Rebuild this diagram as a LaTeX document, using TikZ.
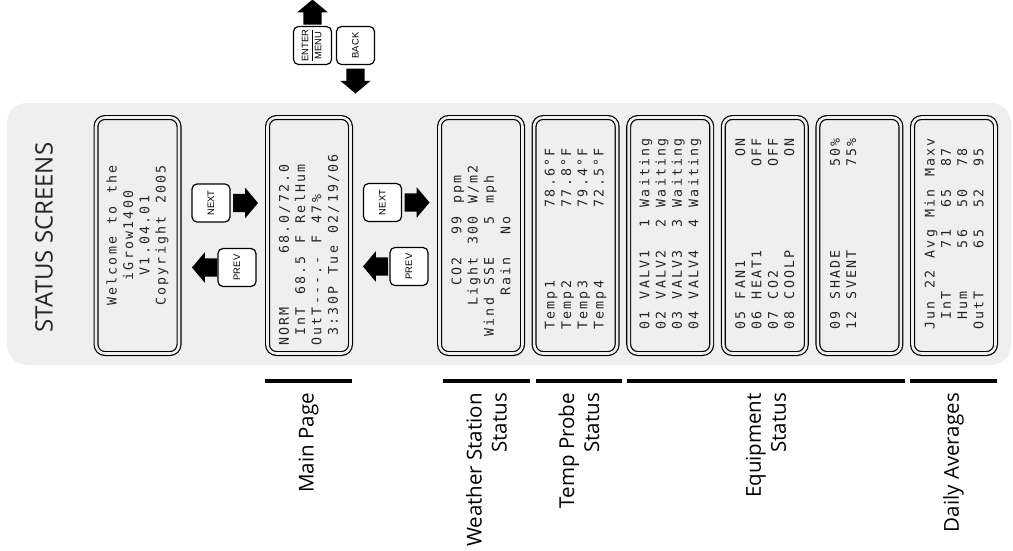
\documentclass[tikz,border=0pt]{standalone}
\usepackage{fontspec}
\setmainfont{Open Sans}
\newfontfamily\lcdfamily{DejaVu Sans Mono}
\newfontfamily\keyfamily{Liberation Sans}
\usetikzlibrary{positioning,shapes.arrows}
\definecolor{panelgray}{RGB}{239,239,239}
\newlength\lcdw
\setlength\lcdw{10.2pt}
\ExplSyntaxOn
\NewDocumentCommand\lcd{m}{\tl_map_inline:nn{#1}{\makebox[\lcdw]{##1}}}
\ExplSyntaxOff
\newcommand\keytext[1]{\rotatebox{90}{#1}}
\tikzset{
  screen/.style={draw=black, line width=1.2pt, double=panelgray, double distance=2.6pt, rounded corners=9pt, minimum width=83pt, minimum height=236pt, inner sep=0pt, outer sep=0pt},
  lcdtext/.style={rotate=90, anchor=west, inner sep=0pt, align=left, text=black!85, font=\lcdfamily\fontsize{13.3}{16.3}\selectfont},
  button/.style={draw, line width=1.2pt, rounded corners=5pt, fill=white, minimum size=38pt, inner sep=0pt, outer sep=0pt, font=\keyfamily\fontsize{9.4}{10}\selectfont},
  blockarrow/.style={single arrow, fill=black, inner xsep=2pt, inner ysep=9pt, outer sep=0pt, minimum height=25pt, single arrow head extend=6pt, single arrow tip angle=100, anchor=tail},
  vblockarrow/.style={blockarrow, inner xsep=9pt, inner ysep=1pt},
  bar/.style={line width=4pt},
  screenname/.style={rotate=90, anchor=east, align=right, inner sep=0pt, font=\fontsize{20.5}{25}\selectfont}
}
\begin{document}
\begin{tikzpicture}[x=1pt,y=-1pt,node distance=11.6pt]
\useasboundingbox (0,0) rectangle (1013,550);
\fill[panelgray, rounded corners=20pt] (7,103) rectangle (1011,365);
\node[rotate=90, text=black!85, font=\fontsize{24}{28}\selectfont] (title) at (44,237.5) {STATUS SCREENS};

% screens
\node[screen] (welcome) at (137.5,235.5) {};
\node[screen, right=88.5pt of welcome] (mainpage) {};
\node[screen, right=89pt of mainpage] (weather) {};
\node[screen, right=of weather] (probes) {};
\node[screen, right=of probes] (valves) {};
\node[screen, right=of valves] (outputs) {};
\node[screen, right=of outputs] (shade) {};
\node[screen, right=of shade] (daily) {};

% lcd text
\node[lcdtext, anchor=center, align=center] (welcometxt) at (welcome) {\lcd{Welcome~to~the}\\\lcd{iGrow1400}\\\lcd{V1.04.01}\\\lcd{Copyright~2005}};
\node[lcdtext] (maintxt) at ([yshift=6.5pt]mainpage.south) {\lcd{NORM~~~~~68.0/72.0}\\\lcd{~InT~68.5~F~RelHum}\\\lcd{OutT---.-~F~47\%}\\\lcd{~3:30P~Tue~02/19/06}};
\node[lcdtext] (weathertxt) at ([yshift=5.5pt]weather.south) {\lcd{~~~~~~CO2~~99~ppm}\\\lcd{~~~~Light~300~W/m2}\\\lcd{~Wind~SSE~~~5~mph}\\\lcd{~~~~~Rain~~No}};
\node[lcdtext] (probestxt) at ([yshift=22.5pt]probes.south) {\lcd{Temp1~~~~~~~78.6°F}\\\lcd{Temp2~~~~~~~77.8°F}\\\lcd{Temp3~~~~~~~79.4°F}\\\lcd{Temp4~~~~~~~72.5°F}};
\node[lcdtext] (valvestxt) at ([yshift=22.5pt]valves.south) {\lcd{01~VALV1~~1~Waiting}\\\lcd{02~VALV2~~2~Waiting}\\\lcd{03~VALV3~~3~Waiting}\\\lcd{04~VALV4~~4~Waiting}};
\node[lcdtext] (outputstxt) at ([yshift=22.5pt]outputs.south) {\lcd{05~FAN1~~~~~~~~~~ON}\\\lcd{06~HEAT1~~~~~~~~OFF}\\\lcd{07~CO2~~~~~~~~~~OFF}\\\lcd{08~COOLP~~~~~~~~~ON}};
\node[lcdtext] (shadetxt) at ([yshift=22.5pt]shade.south) {\lcd{09~SHADE~~~~~~~~50\%}\\\lcd{12~SVENT~~~~~~~~75\%}\\\lcd{~}\\\lcd{~}};
\node[lcdtext] (dailytxt) at ([yshift=22.5pt]daily.south) {\lcd{Jun~22~Avg~Min~Maxv}\\\lcd{~InT~~~~71~~65~~87}\\\lcd{~Hum~~~~56~~50~~78}\\\lcd{OutT~~~~65~~52~~95}};

% keys
\node[button] (enter) at (312.5,45.5) {\keytext{\setlength\arrayrulewidth{1.6pt}\renewcommand\arraystretch{1.15}\begin{tabular}{@{}c@{}}ENTER\\\hline MENU\end{tabular}}};
\node[button, right=5pt of enter] (back) {\keytext{BACK}};
\node[vblockarrow, shape border rotate=90, above=2pt of enter, anchor=tail] (up) {};
\node[vblockarrow, shape border rotate=270, below=4pt of back, anchor=tail] (down) {};

\node[button] (next1) at (211,203) {\keytext{NEXT}};
\node[blockarrow, right=3pt of next1, anchor=tail] (fwd1) {};
\node[button] (prev1) at (237,267.5) {\keytext{PREV}};
\node[blockarrow, shape border rotate=180, left=1pt of prev1, anchor=tail] (rev1) {};
\node[button] (next2) at (382.5,202.5) {\keytext{NEXT}};
\node[blockarrow, right=3pt of next2, anchor=tail] (fwd2) {};
\node[button] (prev2) at (409,266.5) {\keytext{PREV}};
\node[blockarrow, shape border rotate=180, left=2pt of prev2, anchor=tail] (rev2) {};

% groups
\draw[bar] (265,381) -- (352,381);
\draw[bar] (443,381) -- (530,381);
\draw[bar] (536,381) -- (622,381);
\draw[bar] (627,381) -- (905,381);
\draw[bar] (910,381) -- (997,381);
\node[screenname] (mainlbl) at (308.5,393) {Main Page};
\node[screenname] (weatherlbl) at (486.5,393) {Weather Station\\Status};
\node[screenname] (probeslbl) at (579,393) {Temp Probe\\Status};
\node[screenname] (equiplbl) at (766,393) {Equipment\\Status};
\node[screenname] (dailylbl) at (953.5,393) {Daily Averages};
\end{tikzpicture}
\end{document}
